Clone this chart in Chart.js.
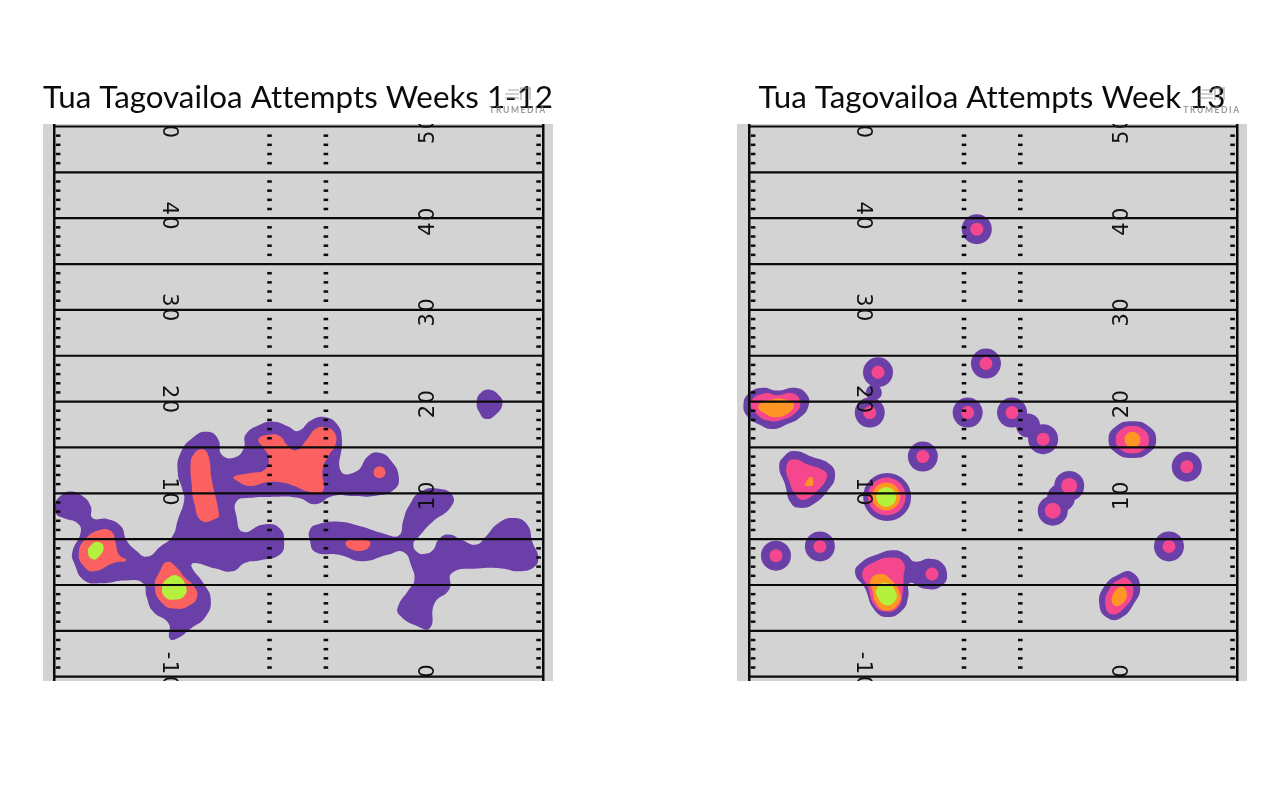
<!DOCTYPE html>
<html>
<head>
<meta charset="utf-8">
<script src="https://cdn.jsdelivr.net/npm/chart.js@4"></script>
<style>
html,body{margin:0;padding:0;background:#fff;width:1280px;height:800px;overflow:hidden}
canvas{position:absolute;top:70px}
#c1{left:43px}
#c2{left:737px}
</style>
</head>
<body>
<canvas id="c1" width="510" height="611"></canvas>
<canvas id="c2" width="510" height="611"></canvas>
<script>
const titleLeft = 'Tua Tagovailoa Attempts Weeks 1-12';
const titleRight = 'Tua Tagovailoa Attempts Week 13';
const brandLabel = 'TRUMEDIA';

const yardLines = [-10,-5,0,5,10,15,20,25,30,35,40,45,50];
const sidelines = [0,53.33];
const hashColumns = [0.45,23.5,29.65,52.85];
const hashYards = [-9,-8,-7,-6,-4,-3,-2,-1,1,2,3,4,6,7,8,9,11,12,13,14,16,17,18,19,21,22,23,24,26,27,28,29,31,32,33,34,36,37,38,39,41,42,43,44,46,47,48,49];

const numberLabelsInner = ['-10','10','20','30','40','50'];
const numberAnchorsInner = [-9.4,10.1,20.2,30.2,40.2,50.2];
const numberLabelsOuter = ['0','10','20','30','40','50'];
const numberAnchorsOuter = [-9.3,9.8,19.8,29.8,39.7,49.7];
const numberColumnInner = 12.45;
const numberColumnOuter = 40.8;

/* Weeks 1-12 contours, in field yards (x across, y downfield) */
const l1Low = [[.1,8.75],[.7,9.7],[1.8,10.2],[3.1,9.7],[4,8.6],[4.2,7.3],[5.8,7.2],[7.3,6.4],[7.9,4.9],[8.9,3.8],[10.2,3.1],[11.6,4.2],[12.9,5.3],[13.5,7.1],[14.2,9.3],[14,10.4],[13.5,12.2],[13.8,14.4],[15.3,16.2],[16.8,16.7],[17.9,15.9],[18.3,14.2],[19.7,13.9],[20.7,14.9],[20.9,16.4],[22.5,17.5],[24,17.8],[25.5,17.3],[26.6,16.8],[28.1,18],[29.6,18.3],[30.9,17.5],[31.4,15.9],[31.3,12.4],[33,12.4],[34.3,14.1],[35.6,14.4],[36.8,13.5],[37.6,11.8],[37.1,10.4],[34.9,9.7],[32.6,9.7],[30.4,9.7],[28.5,8.8],[26.6,9.5],[23.6,9.6],[21.4,9.5],[19.9,9.1],[19.9,7.5],[20.6,5.8],[22.9,6.6],[24.6,6.2],[25.1,4.7],[24.6,3.3],[22.5,2.7],[20.8,2.4],[19.5,1.5],[17.6,1.8],[15.3,2.4],[15,2],[16.3,.2],[17.1,-1.6],[16.5,-3.5],[15,-4.7],[13.3,-5.9],[12.6,-5.8],[12.5,-4.2],[10.8,-2.9],[10.1,-1.3],[9.7,.2],[7.8,.5],[5.2,.2],[3.3,.5],[2.2,2.4],[2,3.6],[2.9,5.7],[2.6,6.7],[1.05,7.3],[.2,7.8]];
const l2Low = [[27.9,6],[28.7,6.6],[31.1,6.9],[33.4,6.4],[36,5.6],[37.6,5.4],[38.1,7.1],[38.7,8.6],[40,10.2],[42,10.5],[43.5,9.7],[43.2,8.4],[41.3,6.9],[39.8,5.3],[39.2,4.5],[39.6,3.6],[40.5,3.4],[41.4,3.9],[41.9,4.9],[43,5.5],[44.5,4.9],[46,4.4],[47.1,5.3],[48.4,6.7],[50.1,7.3],[51.6,6.6],[52.2,4.6],[52.8,3.1],[52.4,2],[50.7,1.5],[48.8,1.8],[46.2,1.8],[43.4,1.3],[43.1,-.5],[41.5,-2],[41,-4.7],[39.4,-4.4],[37.7,-3.3],[37.5,-2.4],[38.7,-.5],[39.3,.5],[39,2],[38.1,3.6],[36.4,3.3],[33.6,2.6],[31.1,3.3],[28.5,3.6],[27.9,4.9]];
const l3Low = [[47.5,21.3],[48.6,20.6],[48.9,19.7],[48.2,18.6],[47.1,18.1],[46.4,18.8],[46.1,19.9],[46.5,20.9]];
const l1Mid = [[22.3,15.9],[23.6,16.4],[24.7,16.2],[25.4,15.3],[26.4,14.7],[27.6,15.9],[28.5,17],[29.6,17.2],[30.6,16.6],[30.7,15.3],[30,14.2],[29.3,12.6],[29.3,10.2],[27.7,10.2],[26.2,10.8],[24.7,11.2],[23.2,11.2],[21.4,10.8],[19.9,11.4],[19.6,11.8],[21.4,12.2],[23,12.6],[23.4,13.9],[22.9,14.9]];
const l2Mid = [[14.9,13.1],[15.2,14.2],[16.1,14.8],[16.8,14.2],[17.2,11.5],[18,7.7],[17.8,7.3],[16.1,7],[15.3,8.9],[15,11.1]];
const l3Mid = [[31.8,4.6],[32.6,5],[34.3,4.8],[34.5,4.4],[33.8,3.8],[32.4,3.9]];
const l4Mid = [[2.7,3.5],[3.5,5.1],[5,6],[6.3,5.8],[6.7,4.6],[7.1,3.3],[7.9,2.7],[6.5,2.4],[4.4,1.5],[3.3,2]];
const l5Mid = [[11,-.2],[11.6,1.6],[12.3,2.5],[13.3,2],[14.2,.9],[15.3,-.2],[15.6,-1.3],[14.8,-2.2],[13.3,-2.6],[11.8,-2]];
const l1Top = [[3.7,3.6],[4.1,4.4],[4.8,4.7],[5.4,4.2],[5,3.2],[4.2,2.8]];
const l2Top = [[11.8,-.2],[12.5,.8],[13.5,1],[14.4,-.2],[14.2,-1.2],[13.1,-1.6],[12.1,-1.3]];
const lMidDots = [[35.5,12.3]];

/* Week 13 contours */
const r1Low = [[-.6,19.7],[0,20.9],[1.5,21.5],[3.1,21.2],[5,21.5],[6.3,20.8],[6.5,19.5],[5.5,18.2],[4.1,17.5],[2.6,17],[1.1,17.5],[-.2,18.4]];
const r1Pink = [[.2,19.9],[1.7,20.9],[3.1,20.7],[4.8,20.9],[5.6,19.9],[5,18.7],[3.5,18],[2.2,17.9],[.9,18.6]];
const r1Orange = [[1,19.5],[2.4,20.2],[4.1,20.2],[4.9,19.7],[4.4,18.8],[3,18.3],[1.75,18.7]];
const r2Low = [[3.3,12.9],[3.9,14.1],[5,14.6],[6.8,14],[8.9,13.1],[9.4,11.8],[8.7,10.4],[7.2,8.9],[5.7,8.4],[4.6,8.9],[3.9,11.1]];
const r2Pink = [[4.1,12.9],[4.8,13.7],[6.5,13.1],[8.3,12.4],[8.5,11.7],[7.6,10.4],[6.1,9.3],[5.2,9.7],[4.4,11.3]];
const r2Orange = [[6.1,10.9],[6.8,11.8],[7,10.9],[6.5,10.8]];
const r3Low = [[11.6,1.3],[12.2,2.4],[13.9,3.3],[15.9,3.8],[17.2,3.3],[18.1,2.55],[20,2.8],[21.6,1.2],[20.9,-.2],[19.2,-.4],[17.55,.2],[17.4,-1.3],[16.8,-2.7],[15.15,-3.5],[13.7,-2.7],[12.6,-.2]];
const r3Pink = [[12.38,1.3],[13.5,2.4],[15.7,3],[16.9,2.4],[16.9,.9],[16.8,-.9],[16.3,-2.4],[15,-2.9],[13.7,-2.2],[13,-.2]];
const r3Orange = [[13.3,.6],[14.4,1.2],[15.5,.6],[16.5,-.9],[16.3,-2.1],[15,-2.8],[13.9,-2],[13.5,-.6]];
const r3Green = [[14,-.3],[15.1,.2],[16.1,-.9],[15.9,-1.8],[15,-2.2],[14.1,-1.4]];
const r4Low = [[41.9,17.85],[43.75,17.25],[44.5,15.85],[43.75,14.45],[41.9,13.85],[40.05,14.45],[39.3,15.85],[40.05,17.25]];
const r4Pink = [[41.9,17.35],[43.2,16.9],[43.7,15.85],[43.2,14.8],[41.9,14.35],[40.6,14.8],[40.1,15.85],[40.6,16.9]];
const r5Low = [[41.9,1.35],[42.75,-.2],[42.1,-2],[40.65,-3.6],[39.2,-3.6],[38.3,-2.2],[38.8,-.2],[40.5,1.2]];
const r5Pink = [[41.4,.7],[42,-.7],[41.1,-2.4],[39.7,-3.2],[38.95,-2.2],[39.4,-.4],[40.65,.7]];
const r5Orange = [[40.7,-.2],[41.3,-1],[40.7,-2.1],[39.9,-2.2],[39.7,-1.2]];
const rSpots = [[24.9,38.8],[25.9,24.15],[14.1,23.2],[13.2,18.8],[23.9,18.8],[28.75,18.8],[32.15,15.9],[19,14],[47.85,12.9],[45.9,4.2],[7.75,4.2],[2.95,3.2],[20,1.2],[35,10.8],[33.2,8.1]];
const rSpotCentres = [[24.9,38.8],[25.9,24.15],[14.1,23.2],[13.2,18.8],[23.9,18.8],[28.75,18.8],[32.15,15.9],[19,14],[47.85,12.9],[45.9,4.2],[7.75,4.2],[2.95,3.2],[20,1.2]];
const rLobeCentres = [[35,10.8],[33.2,8.1]];
const rNecksSmall = [[13.65,21]];
const rNecksMid = [[30.5,17.4]];
const rNecksWide = [[34.1,9.5]];
const rHotLow = [[15.1,9.6]];
const rHotPink = [[15.05,9.65]];
const rHotOrange = [[15,9.65]];
const rHotGreen = [[15,9.6]];
const rSideOrange = [[41.9,15.85]];

const PURPLE='#6B3FA8', PINK='#F4478E', RED='#FB6161', ORANGE='#FF9522', GREEN='#B4F03C';

function area(points,color,order){
  const n=points.length;
  const closed=[points[n-1]].concat(points,[points[0],points[1]]).map(p=>({x:p[0],y:p[1]}));
  return {type:'scatter',data:closed,showLine:true,fill:'shape',tension:.5,backgroundColor:color,
    borderColor:'transparent',borderWidth:0,pointRadius:0,order};
}
function dots(points,r,color,order){
  return {type:'bubble',data:points.map(p=>({x:p[0],y:p[1],r})),backgroundColor:color,borderWidth:0,order};
}
function fieldSets(){
  const sets = yardLines.map(y=>({type:'scatter',data:[{x:sidelines[0],y},{x:sidelines[1],y}],showLine:true,
    borderColor:'#0a0a0a',borderWidth:2.2,pointRadius:0,order:0}));
  hashColumns.forEach(x=>sets.push({type:'scatter',data:hashYards.map(y=>({x,y})),pointStyle:'line',
    pointRadius:2.3,pointBorderWidth:2.5,pointBorderColor:'#0a0a0a',showLine:false,order:1}));
  return sets;
}

const fieldPlugin = {
  id:'field',
  beforeDraw(chart){
    const {ctx,chartArea:a}=chart;
    ctx.save();ctx.fillStyle='#D3D3D3';ctx.fillRect(a.left,a.top,a.right-a.left,a.bottom-a.top);ctx.restore();
    ctx.letterSpacing='0.01px';
  },
  afterDraw(chart){
    const {ctx,chartArea:a,scales}=chart;
    const o=chart.options.plugins.field;
    ctx.save();
    ctx.beginPath();ctx.rect(a.left,a.top,a.right-a.left,a.bottom-a.top);ctx.clip();
    ctx.fillStyle='#111';ctx.font='21px "DejaVu Sans"';ctx.letterSpacing='1.5px';
    ctx.textAlign='center';ctx.textBaseline='middle';
    const put=(labels,anchors,col,rot)=>labels.forEach((t,i)=>{
      ctx.save();ctx.translate(scales.x.getPixelForValue(col),scales.y.getPixelForValue(anchors[i]));
      ctx.rotate(rot);ctx.fillText(t,0,0);ctx.restore();
    });
    put(numberLabelsInner,numberAnchorsInner,numberColumnInner,Math.PI/2);
    put(numberLabelsOuter,numberAnchorsOuter,numberColumnOuter,-Math.PI/2);
    ctx.restore();
    /* watermark */
    ctx.save();
    ctx.globalAlpha=.75;
    ctx.fillStyle='#777';ctx.font='bold 8.5px "Lato"';ctx.letterSpacing='1.6px';
    ctx.textAlign='center';ctx.textBaseline='middle';
    ctx.fillText(brandLabel,o.brandX,40);
    ctx.strokeStyle='#888';ctx.lineWidth=1.2;
    const bx=o.brandX-13;
    ctx.beginPath();
    [20,24,28].forEach((yy,i)=>{ctx.moveTo(bx+(i?0:3),yy);ctx.lineTo(bx+14,yy);});
    ctx.moveTo(bx+15,18);ctx.lineTo(bx+26,18);
    [16,20.5,25].forEach(d=>{ctx.moveTo(bx+d,18);ctx.lineTo(bx+d,30);});
    ctx.stroke();
    ctx.restore();
  }
};

function makeChart(id,title,datasets,xMin,xMax){
  return new Chart(document.getElementById(id),{
    data:{datasets:datasets.concat(fieldSets())},
    plugins:[fieldPlugin],
    options:{
      responsive:false,animation:false,
      layout:{padding:0,autoPadding:false},
      scales:{
        x:{type:'linear',min:xMin,max:xMax,border:{display:false},
          afterBuildTicks(s){s.ticks=sidelines.map(v=>({value:v}));},
          grid:{z:1,color:'#0a0a0a',lineWidth:2.5,drawTicks:false},ticks:{display:false}},
        y:{type:'linear',min:-10.47,max:50.27,display:false}
      },
      plugins:{
        legend:{display:false},tooltip:{enabled:false},
        field:{brandX:475},
        title:{display:true,text:title,color:'#0b0b0b',font:{family:'Lato',size:31.3,weight:'normal',lineHeight:1.2},
          padding:{top:9.2,bottom:7.24}}
      }
    }
  });
}

makeChart('c1',titleLeft,[
  area(l1Low,PURPLE,9),area(l2Low,PURPLE,9),area(l3Low,PURPLE,9),
  area(l1Mid,RED,8),area(l2Mid,RED,8),area(l3Mid,RED,8),area(l4Mid,RED,8),area(l5Mid,RED,8),
  dots(lMidDots,6,RED,8),
  area(l1Top,GREEN,7),area(l2Top,GREEN,7)
],-1.2,54.42);

makeChart('c2',titleRight,[
  area(r1Low,PURPLE,9),area(r2Low,PURPLE,9),area(r3Low,PURPLE,9),area(r4Low,PURPLE,9),area(r5Low,PURPLE,9),
  dots(rSpots,15,PURPLE,9),dots(rNecksSmall,8,PURPLE,9),dots(rNecksMid,12,PURPLE,9),dots(rNecksWide,14,PURPLE,9),dots(rHotLow,24,PURPLE,9),
  area(r1Pink,PINK,8),area(r2Pink,PINK,8),area(r3Pink,PINK,8),area(r4Pink,PINK,8),area(r5Pink,PINK,8),
  dots(rSpotCentres,6.5,PINK,8),dots(rLobeCentres,8,PINK,8),dots(rHotPink,19,PINK,8),
  area(r1Orange,ORANGE,7),area(r2Orange,ORANGE,7),area(r3Orange,ORANGE,7),area(r5Orange,ORANGE,7),
  dots(rHotOrange,14,ORANGE,7),dots(rSideOrange,8,ORANGE,7),
  area(r3Green,GREEN,6),dots(rHotGreen,10,GREEN,6)
],-1.31,54.43);
</script>
</body>
</html>
